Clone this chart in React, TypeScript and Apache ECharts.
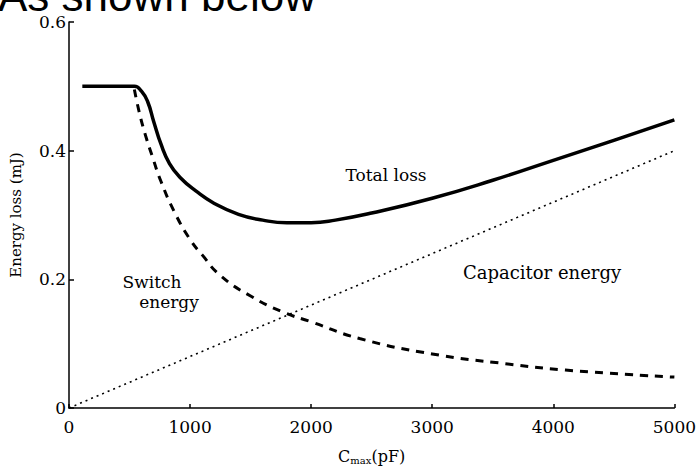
import React, { useEffect, useRef } from "react";
import * as echarts from "echarts";

const xTicks = [0, 1000, 2000, 3000, 4000, 5000];
const yTicks = [0, 0.2, 0.4, 0.6];

const totalC = [110, 540, 600, 650, 700, 760, 830, 920, 1050, 1200, 1400, 1600, 1800, 2000, 2200, 2500, 3000, 3500, 4000, 4500, 5000];
const totalE = [0.5, 0.5, 0.492, 0.476, 0.445, 0.41, 0.38, 0.358, 0.337, 0.318, 0.301, 0.292, 0.288, 0.288, 0.292, 0.303, 0.326, 0.354, 0.385, 0.416, 0.448];

const switchC = [540, 580, 630, 690, 760, 870, 1000, 1100, 1250, 1500, 1770, 2000, 2400, 3000, 3600, 4100, 5000];
const switchE = [0.495, 0.46, 0.425, 0.39, 0.352, 0.305, 0.262, 0.238, 0.206, 0.174, 0.149, 0.134, 0.108, 0.084, 0.069, 0.059, 0.048];

const capC = [0, 5000];
const capE = [0, 0.4];

const FONT = '"DejaVu Serif", "Liberation Serif", serif';

export default function App() {
  const ref = useRef<HTMLDivElement>(null);
  useEffect(() => {
    if (!ref.current) return;
    const chart = echarts.init(ref.current, null, { renderer: "svg" });
    const zip = (a: number[], b: number[]) => a.map((v, i) => [v, b[i]]);
    chart.setOption({
      animation: false,
      backgroundColor: "#ffffff",
      grid: { left: 64, right: 24, top: 22, bottom: 52, containLabel: false },
      xAxis: {
        type: "value",
        min: xTicks[0],
        max: xTicks[xTicks.length - 1],
        interval: 1000,
        name: "{c|C}{s|max}{c|(pF)}",
        nameLocation: "middle",
        nameGap: 39,
        nameTextStyle: {
          rich: {
            c: { fontFamily: FONT, fontSize: 16, color: "#000" },
            s: { fontFamily: FONT, fontSize: 10, color: "#000", verticalAlign: "bottom", padding: [8, 0, 0, 0] },
          },
        },
        axisLine: { show: true, lineStyle: { color: "#000", width: 1.5 } },
        axisTick: { show: true, inside: true, length: 4, lineStyle: { color: "#000", width: 1.5 } },
        axisLabel: { color: "#000", fontFamily: FONT, fontSize: 17, margin: 10, formatter: (v: number) => String(v) },
        splitLine: { show: false },
      },
      yAxis: {
        type: "value",
        min: yTicks[0],
        max: yTicks[yTicks.length - 1],
        interval: 0.2,
        name: "Energy loss (mJ)",
        nameLocation: "middle",
        nameGap: 46,
        nameTextStyle: { fontFamily: FONT, fontSize: 15, color: "#000" },
        axisLine: { show: true, lineStyle: { color: "#000", width: 1.5 } },
        axisTick: { show: true, inside: true, length: 5, lineStyle: { color: "#000", width: 1.5 } },
        axisLabel: {
          color: "#000",
          fontFamily: FONT,
          fontSize: 17,
          margin: 3,
          formatter: (v: number) => (v === 0 ? "0" : String(Math.round(v * 10) / 10)),
        },
        splitLine: { show: false },
      },
      series: [
        {
          name: "Total loss",
          type: "line",
          data: zip(totalC, totalE),
          symbol: "none",
          smooth: 0.5,
          lineStyle: { color: "#000", width: 3.5 },
        },
        {
          name: "Switch energy",
          type: "line",
          data: zip(switchC, switchE),
          symbol: "none",
          smooth: 0.5,
          lineStyle: { color: "#000", width: 3, type: [8, 7] },
        },
        {
          name: "Capacitor energy",
          type: "line",
          data: zip(capC, capE),
          symbol: "none",
          lineStyle: { color: "#000", width: 1.6, type: [2, 4] },
        },
      ],
      graphic: [
        {
          type: "text",
          style: {
            text: "As shown below",
            x: -2,
            y: 17,
            textVerticalAlign: "bottom",
            font: '44px "Liberation Sans", Arial, sans-serif',
            fill: "#000",
          },
        },
        {
          type: "text",
          style: { text: "Total loss", x: 386, y: 175, textAlign: "center", textVerticalAlign: "middle", font: `17px ${FONT}`, fill: "#000" },
        },
        {
          type: "text",
          style: { text: "Capacitor energy", x: 542, y: 272, textAlign: "center", textVerticalAlign: "middle", font: `18px ${FONT}`, fill: "#000" },
        },
        {
          type: "text",
          style: { text: "Switch", x: 152, y: 282, textAlign: "center", textVerticalAlign: "middle", font: `17px ${FONT}`, fill: "#000" },
        },
        {
          type: "text",
          style: { text: "energy", x: 169, y: 302, textAlign: "center", textVerticalAlign: "middle", font: `17px ${FONT}`, fill: "#000" },
        },
      ],
    });
    return () => chart.dispose();
  }, []);
  return (
    <div
      ref={ref}
      style={{ position: "fixed", left: 0, top: 0, width: 699, height: 470, background: "#fff" }}
    />
  );
}
